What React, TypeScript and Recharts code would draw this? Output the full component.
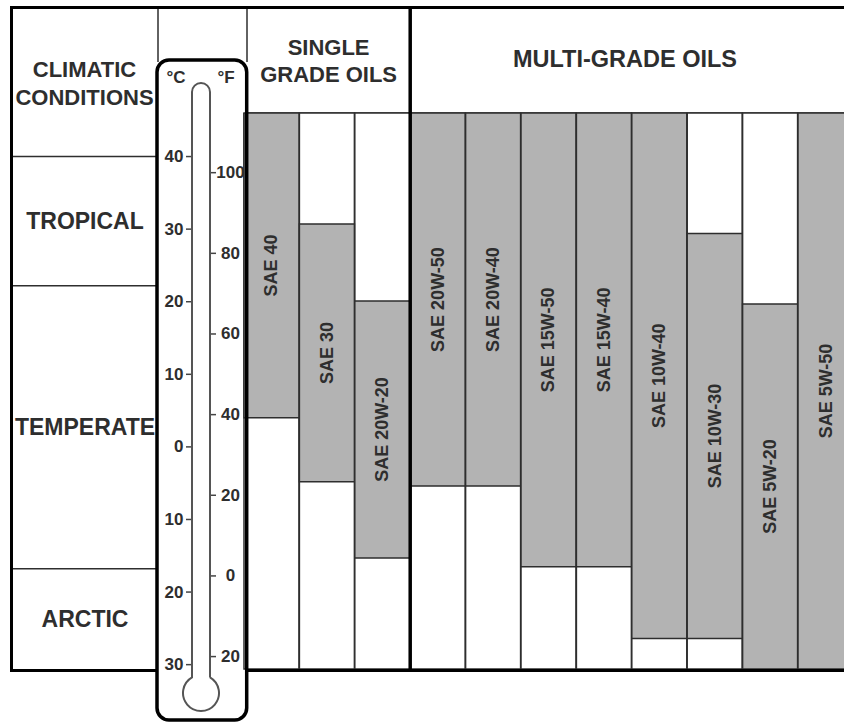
import React from 'react';
import { ComposedChart, Bar, XAxis, YAxis, LabelList } from 'recharts';

// ---------- data (temperatures in °C) ----------
const oilGrades = [
  'SAE 40', 'SAE 30', 'SAE 20W-20',
  'SAE 20W-50', 'SAE 20W-40', 'SAE 15W-50', 'SAE 15W-40',
  'SAE 10W-40', 'SAE 10W-30', 'SAE 5W-20', 'SAE 5W-50',
];
const lowC = [4, -4.8, -15.3, -5.4, -5.4, -16.5, -16.5, -26.4, -26.4, -30.6, -30.6];
const highC = [46, 30.7, 20.1, 46, 46, 46, 46, 46, 29.4, 19.7, 46];

const celsiusTicks = [40, 30, 20, 10, 0, -10, -20, -30];
const fahrenheitTicks = [100, 80, 60, 40, 20, 0, -20];

const zoneNames = ['TROPICAL', 'TEMPERATE', 'ARCTIC'];
const zoneTopC = [40, 22.2, -16.8];
const zoneBottomC = [22.2, -16.8, -30.6];

const cDomain = [-30.6, 46];

// ---------- derived ----------
const rows = oilGrades.map((name, i) => ({ name, range: [lowC[i], highC[i]] }));
const fDomain = cDomain.map((c) => c * 1.8 + 32);
const zoneCenters = zoneTopC.map((t, i) => (t + zoneBottomC[i]) / 2);
const zoneTicks = [...zoneTopC, ...zoneCenters];

// ---------- layout (page coordinates; body margin removed) ----------
const FONT = '"Liberation Sans", Arial, Helvetica, sans-serif';
const INK = '#2e2e2e';
const W = 844;
const H = 722;
const PLOT_LEFT = 244;
const PLOT_TOP = 113;
const PLOT_BOTTOM = 669;
const BAND = 55.4;
const PLOT_W = BAND * oilGrades.length;
const ZONE_W = 146;
const C_W = 52;
const F_W = 34;
const CHART_W = 868;
const MARGIN = {
  top: PLOT_TOP,
  bottom: H - PLOT_BOTTOM,
  left: PLOT_LEFT - ZONE_W - C_W - F_W,
  right: CHART_W - PLOT_LEFT - PLOT_W,
};
const SPLIT_X = PLOT_LEFT + 3 * BAND;

const near = (a: number, b: number) => Math.abs(a - b) < 1e-6;

const ZoneTick = (props: any) => {
  const { y, payload } = props;
  const v = payload.value;
  const bi = zoneTopC.findIndex((t) => near(t, v));
  if (bi >= 0) {
    return <line x1={11} x2={158} y1={y} y2={y} stroke={INK} strokeWidth={1.5} />;
  }
  const ci = zoneCenters.findIndex((t) => near(t, v));
  if (ci < 0) return <g />;
  return (
    <text x={85} y={y} textAnchor="middle" dominantBaseline="central"
      fontFamily={FONT} fontWeight="bold" fontSize={23} fill={INK}>
      {zoneNames[ci]}
    </text>
  );
};

const CTick = (props: any) => {
  const { y, payload } = props;
  return (
    <g>
      <line x1={186} x2={192} y1={y} y2={y} stroke="#444" strokeWidth={1.5} />
      <text x={183.5} y={y} textAnchor="end" dominantBaseline="central"
        fontFamily={FONT} fontWeight="bold" fontSize={17} fill={INK}>
        {Math.abs(payload.value)}
      </text>
    </g>
  );
};

const FTick = (props: any) => {
  const { y, payload } = props;
  return (
    <g>
      <line x1={210} x2={216} y1={y} y2={y} stroke="#444" strokeWidth={1.5} />
      <text x={230.5} y={y} textAnchor="middle" dominantBaseline="central"
        fontFamily={FONT} fontWeight="bold" fontSize={17} fill={INK}>
        {Math.abs(payload.value)}
      </text>
    </g>
  );
};

const renderBarLabel = (p: any) => {
  const x = Number(p.x), y = Number(p.y), w = Number(p.width), h = Number(p.height);
  const cx = x + w / 2;
  const cy = y + h / 2;
  return (
    <text x={cx} y={cy} transform={`rotate(-90 ${cx} ${cy})`} textAnchor="middle"
      dominantBaseline="central" fontFamily={FONT} fontWeight="bold" fontSize={18} fill={INK}>
      {p.value}
    </text>
  );
};

const layerStyle: React.CSSProperties = {
  position: 'absolute', left: 0, top: 0, width: W, height: H, pointerEvents: 'none',
};

const headerText = { fontFamily: FONT, fontWeight: 'bold' as const, fontSize: 22, fill: INK };

export default function App() {
  return (
    <div style={{ position: 'relative', width: W, height: H, overflow: 'hidden', background: '#fff' }}>
      <style>{'html,body{margin:0;padding:0;overflow:hidden;}'}</style>
      {/* bottom layer */}
      <svg style={layerStyle} width={W} height={H}>
        <line x1={158} x2={158} y1={8} y2={62} stroke={INK} strokeWidth={1.5} />
        <line x1={247} x2={247} y1={8} y2={62} stroke={INK} strokeWidth={1.5} />
        <line x1={PLOT_LEFT} x2={W} y1={PLOT_TOP} y2={PLOT_TOP} stroke={INK} strokeWidth={1.5} />
        <rect x={157} y={60} width={89.7} height={660} rx={12} ry={12} fill="#fff" />
      </svg>

      {/* chart layer */}
      <div style={{ position: 'absolute', left: 0, top: 0, width: W, height: H, overflow: 'hidden' }}>
        <ComposedChart width={CHART_W} height={H} data={rows} margin={MARGIN}
          barCategoryGap={0} barGap={0}>
          <XAxis dataKey="name" type="category" hide />
          <YAxis yAxisId="zone" orientation="left" width={ZONE_W} type="number" domain={cDomain}
            allowDataOverflow ticks={zoneTicks} interval={0} tick={<ZoneTick />}
            axisLine={false} tickLine={false} />
          <YAxis yAxisId="c" orientation="left" width={C_W} type="number" domain={cDomain}
            allowDataOverflow ticks={celsiusTicks} interval={0} tick={<CTick />}
            axisLine={false} tickLine={false} />
          <YAxis yAxisId="f" orientation="left" width={F_W} type="number" domain={fDomain}
            allowDataOverflow ticks={fahrenheitTicks} interval={0} tick={<FTick />}
            axisLine={false} tickLine={false} />
          <Bar yAxisId="c" dataKey="range" fill="#b3b3b3" stroke={INK} strokeWidth={1.5}
            background={{ fill: '#ffffff', stroke: INK, strokeWidth: 1.5 }}
            isAnimationActive={false}>
            <LabelList dataKey="name" content={renderBarLabel} />
          </Bar>
        </ComposedChart>
      </div>

      {/* top layer */}
      <svg style={layerStyle} width={W} height={H}>
        {/* outer frame */}
        <line x1={10} x2={W} y1={7.5} y2={7.5} stroke="#000" strokeWidth={3} />
        <line x1={11.5} x2={11.5} y1={6} y2={672} stroke="#000" strokeWidth={3} />
        <line x1={10} x2={157} y1={670.5} y2={670.5} stroke="#000" strokeWidth={3} />
        <line x1={247} x2={W} y1={670.5} y2={670.5} stroke="#000" strokeWidth={3} />
        <line x1={SPLIT_X} x2={SPLIT_X} y1={6} y2={672} stroke="#000" strokeWidth={3.5} />

        {/* thermometer */}
        <rect x={157} y={60} width={89.7} height={660} rx={12} ry={12} fill="none" stroke="#000" strokeWidth={3.5} />
        <path d="M210,677.4 L210,92 A9,9 0 0 0 192,92 L192,677.4 A18,18 0 1 0 210,677.4"
          fill="none" stroke="#555" strokeWidth={2} />
        <text x={176} y={83} textAnchor="middle" fontFamily={FONT} fontWeight="bold" fontSize={17} fill={INK}>°C</text>
        <text x={226} y={83} textAnchor="middle" fontFamily={FONT} fontWeight="bold" fontSize={17} fill={INK}>°F</text>

        {/* headers */}
        <text x={84.5} y={77} textAnchor="middle" {...headerText}>CLIMATIC</text>
        <text x={84.5} y={105} textAnchor="middle" {...headerText}>CONDITIONS</text>
        <text x={(247 + SPLIT_X) / 2} y={55} textAnchor="middle" {...headerText}>SINGLE</text>
        <text x={(247 + SPLIT_X) / 2} y={82} textAnchor="middle" {...headerText}>GRADE OILS</text>
        <text x={625} y={67} textAnchor="middle" {...headerText} fontSize={23.5}>MULTI-GRADE OILS</text>
      </svg>
    </div>
  );
}
